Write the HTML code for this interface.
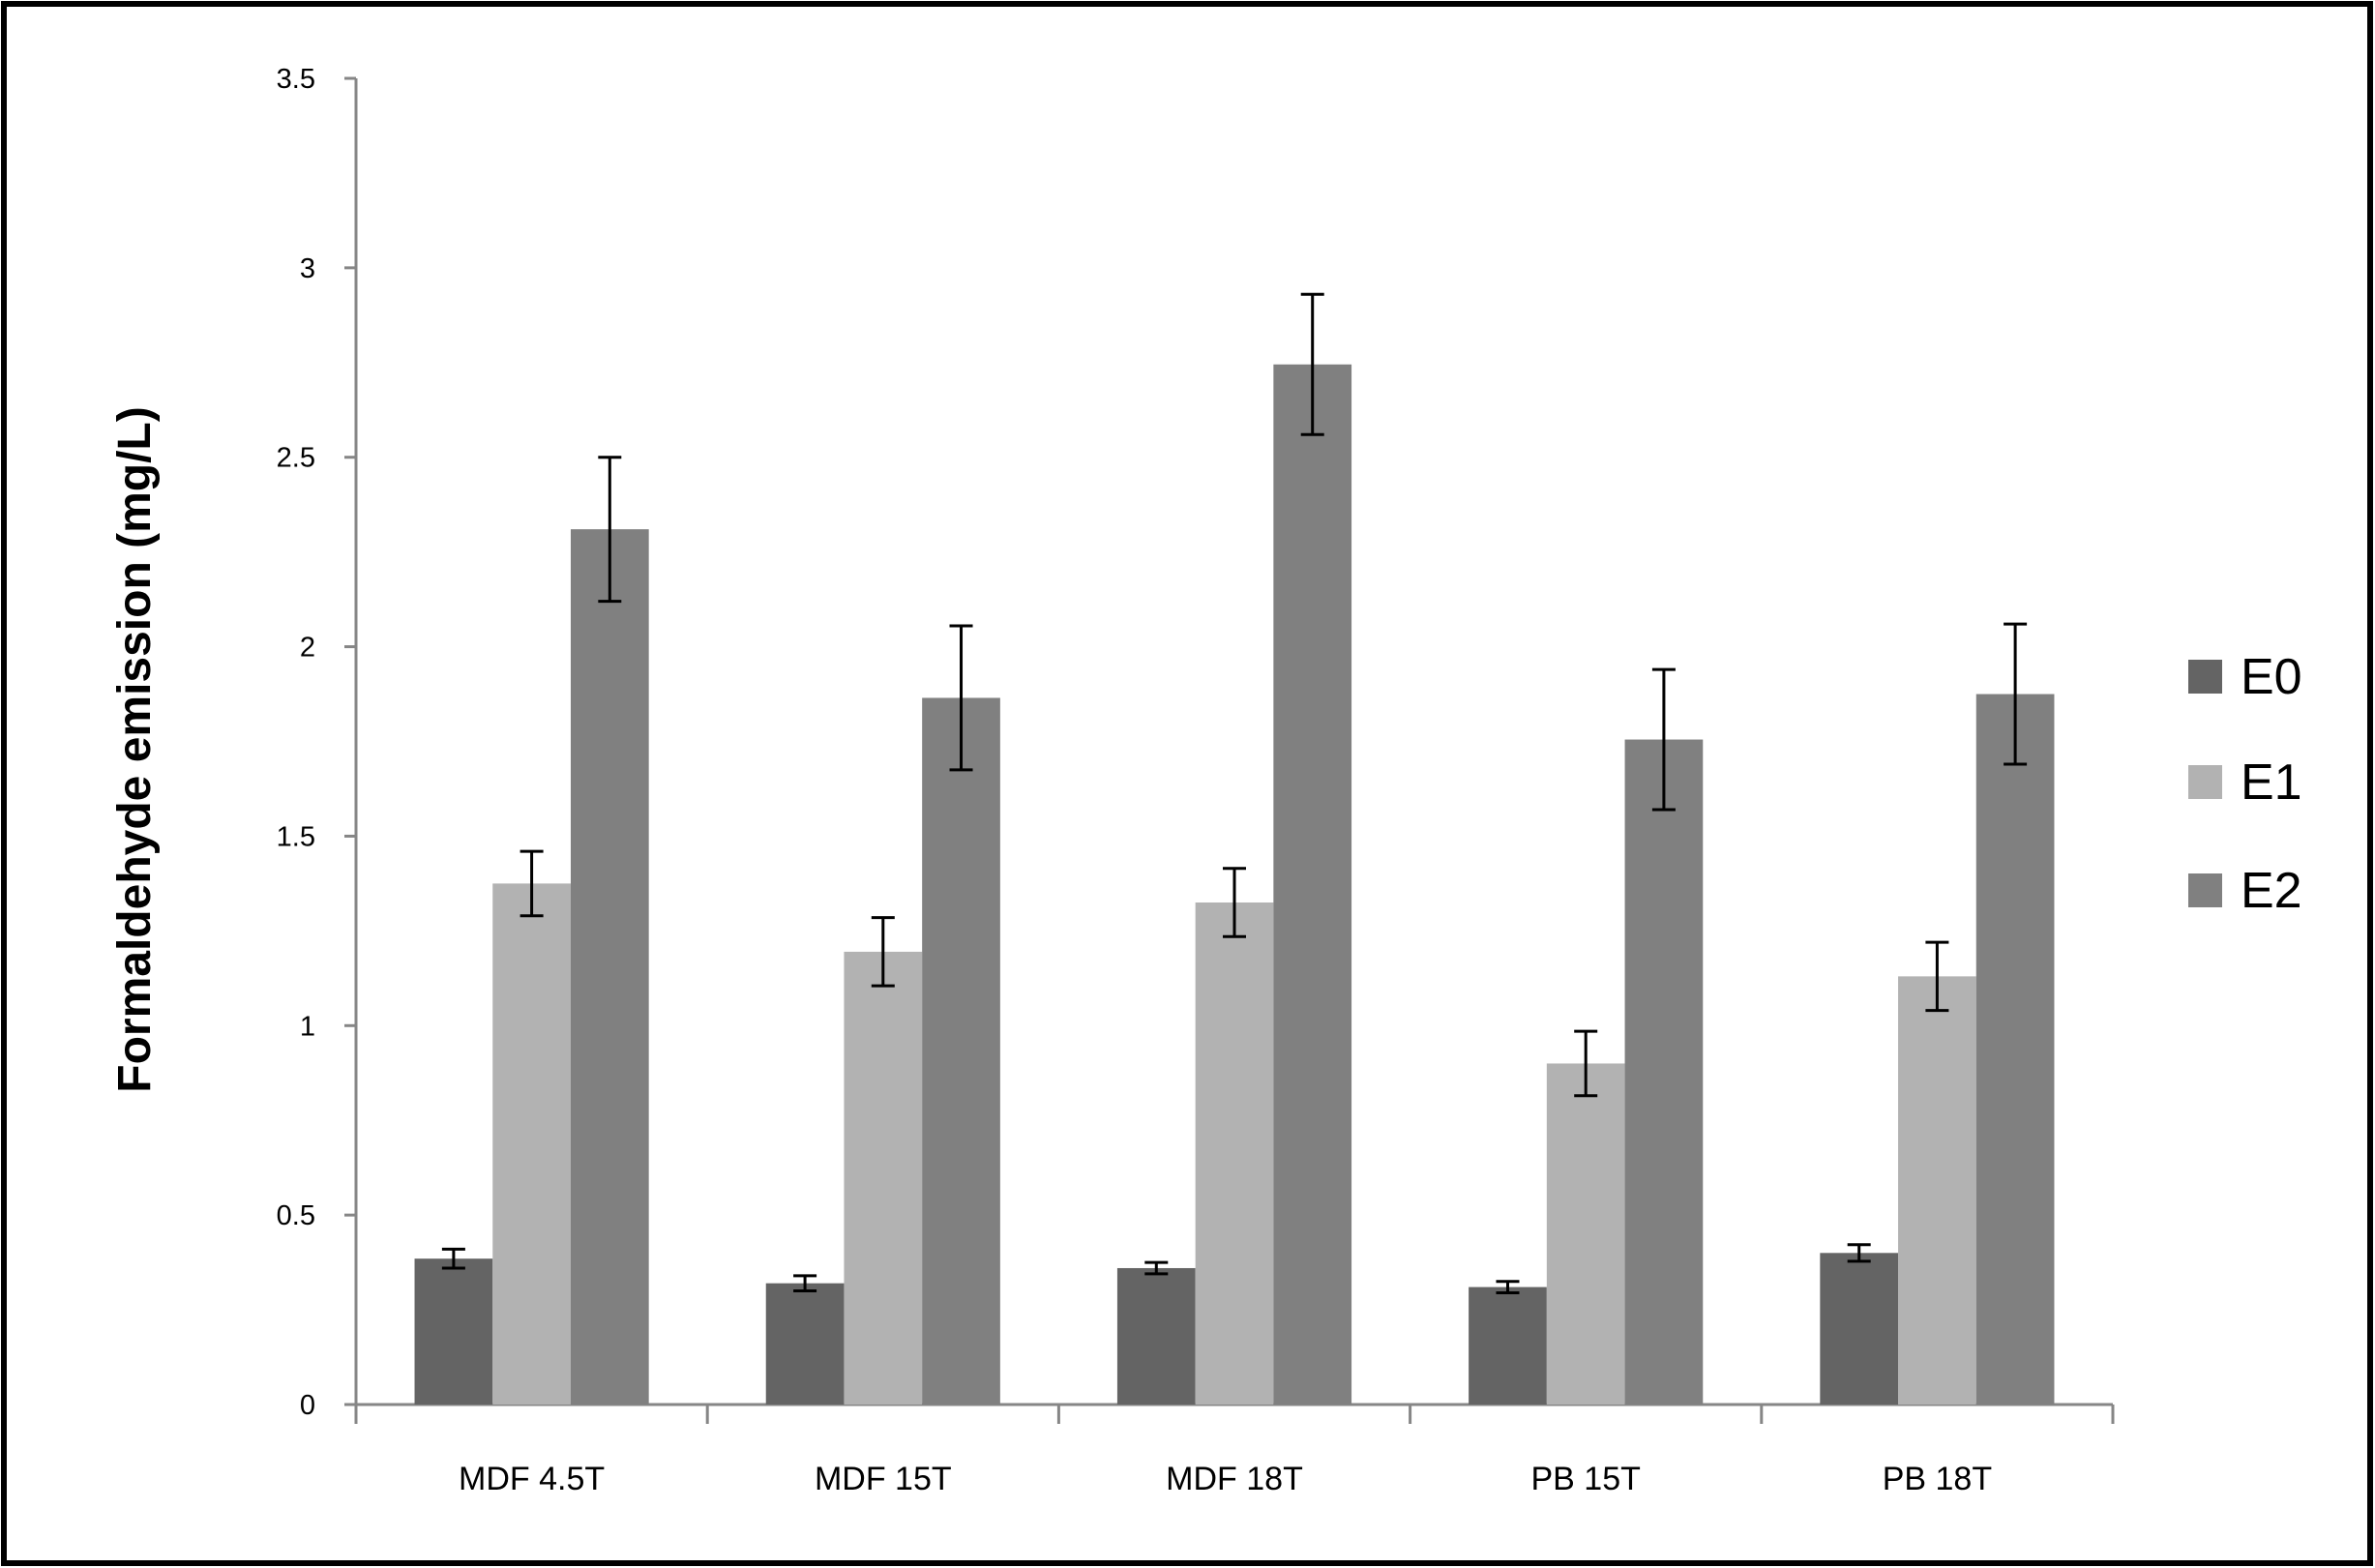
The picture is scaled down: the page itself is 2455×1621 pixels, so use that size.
<!DOCTYPE html>
<html><head><meta charset="utf-8"><style>
html,body{margin:0;padding:0;background:#fff;}
svg{display:block;}
text{font-family:"Liberation Sans",sans-serif;}
</style></head><body>
<svg id="chart" width="2455" height="1621" viewBox="0 0 2455 1621" xmlns="http://www.w3.org/2000/svg">
<rect x="4" y="4" width="2446" height="1612" fill="#fff" stroke="#000" stroke-width="6"/>
<g id="axes"></g>
<g id="bars"></g>
<text transform="translate(155,775) rotate(-90)" text-anchor="middle" font-size="48" font-weight="bold" fill="#000">Formaldehyde emission (mg/L)</text>
<g id="legend"></g>
</svg>
<script>
const categories = ["MDF 4.5T","MDF 15T","MDF 18T","PB 15T","PB 18T"];
const seriesNames = ["E0","E1","E2"];
const e0 = [0.385,0.32,0.36,0.31,0.40];
const e1 = [1.375,1.195,1.325,0.90,1.13];
const e2 = [2.31,1.865,2.745,1.755,1.875];
const e0err = [0.025,0.02,0.015,0.015,0.022];
const e1err = [0.085,0.09,0.09,0.085,0.09];
const e2err = [0.19,0.19,0.185,0.185,0.185];
const yTicks = ["0","0.5","1","1.5","2","2.5","3","3.5"];

const NS="http://www.w3.org/2000/svg";
const X0=368, X1=2184, Y0=1452, YTOP=81, YMAX=3.5;
const colors=["#646464","#b2b2b2","#808080"];
const catW=(X1-X0)/categories.length;
const barW=catW/4.5;
function y(v){return Y0-(v/YMAX)*(Y0-YTOP);}
function x(ci,si){return X0+ci*catW+catW*0.75/4.5*1+ (catW-3*barW)/2 - catW*0.75/4.5 + si*barW;}
function mk(tag,attrs,parent){const e=document.createElementNS(NS,tag);for(const k in attrs)e.setAttribute(k,attrs[k]);parent.appendChild(e);return e;}
const axes=document.getElementById('axes'), bars=document.getElementById('bars'), legend=document.getElementById('legend');

let yl=mk('line',{x1:X0,y1:YTOP,x2:X0,y2:Y0,stroke:'#868686','stroke-width':3},axes);


yTicks.forEach(t=>{
  const v=parseFloat(t), yy=y(v);
  const tk=mk('line',{x1:X0-12,y1:yy,x2:X0,y2:yy,stroke:'#868686','stroke-width':3},axes);
  
  
  const tl=mk('text',{x:X0-42,y:yy+10,'text-anchor':'end','font-size':29,fill:'#000'},axes);
  tl.textContent=t;
  
  
});
const series=[e0,e1,e2], errs=[e0err,e1err,e2err];
categories.forEach((c,ci)=>{
  series.forEach((s,si)=>{
    const bx=X0+ci*catW+(catW-3*barW)/2+si*barW;
    const r=mk('rect',{x:bx,y:y(s[ci]),width:barW,height:Y0-y(s[ci]),fill:colors[si]},bars);
    
    
    const cx=bx+barW/2, hi=y(s[ci]+errs[si][ci]), lo=y(s[ci]-errs[si][ci]);
    const g=mk('g',{stroke:'#000','stroke-width':3},bars);
    
    
    mk('line',{x1:cx,y1:hi,x2:cx,y2:lo},g);
    mk('line',{x1:cx-12,y1:hi,x2:cx+12,y2:hi},g);
    mk('line',{x1:cx-12,y1:lo,x2:cx+12,y2:lo},g);
  });
  const lbl=mk('text',{x:X0+ci*catW+catW/2,y:1540,'text-anchor':'middle','font-size':34,fill:'#000'},axes);
  lbl.textContent=c;
  
  
});
let xl=mk('line',{x1:X0-12,y1:Y0,x2:X1,y2:Y0,stroke:'#868686','stroke-width':3},axes);


for(let i=0;i<=categories.length;i++){
  const tx=X0+i*catW;
  const t=mk('line',{x1:tx,y1:Y0,x2:tx,y2:Y0+20,stroke:'#868686','stroke-width':3},axes);
  
  
}
const legY=[682,791,903];
seriesNames.forEach((n,i)=>{
  const r=mk('rect',{x:2262,y:legY[i],width:35,height:35,fill:colors[i]},legend);
  
  
  const t=mk('text',{x:2316,y:legY[i]+35,'font-size':52,fill:'#000'},legend);
  t.textContent=n;
  
  
});
</script>
</body></html>
